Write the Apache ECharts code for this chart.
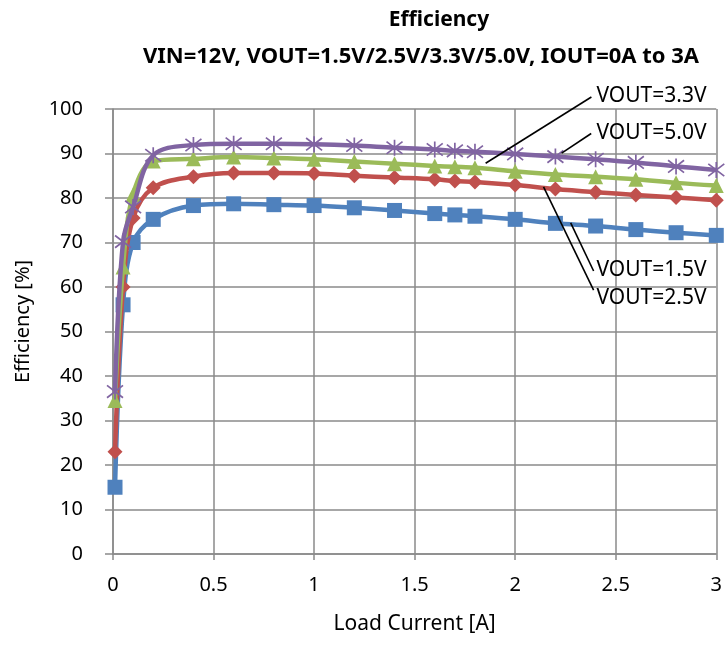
<!DOCTYPE html>
<html>
<head>
<meta charset="utf-8">
<script src="https://cdn.jsdelivr.net/npm/echarts@6/dist/echarts.min.js"></script>
<style>
html,body{margin:0;padding:0;background:#fff;}
#chart{width:725px;height:645px;}
</style>
</head>
<body>
<div id="chart"></div>
<script>
// ---- data ----
const titleText = 'Efficiency';
const subtitleText = 'VIN=12V, VOUT=1.5V/2.5V/3.3V/5.0V, IOUT=0A to 3A';
const xName = 'Load Current [A]';
const yName = 'Efficiency [%]';
const xTickLabels = ['0', '0.5', '1', '1.5', '2', '2.5', '3'];
const yTickLabels = ['0', '10', '20', '30', '40', '50', '60', '70', '80', '90', '100'];
const loadCurrent = [0.01, 0.05, 0.1, 0.2, 0.4, 0.6, 0.8, 1.0, 1.2, 1.4, 1.6, 1.7, 1.8, 2.0, 2.2, 2.4, 2.6, 2.8, 3.0];
const eff15 = [15, 56, 70, 75.2, 78.3, 78.7, 78.5, 78.3, 77.8, 77.2, 76.5, 76.2, 75.9, 75.2, 74.3, 73.7, 72.9, 72.2, 71.6];
const eff25 = [23, 60, 75.5, 82.3, 84.8, 85.6, 85.6, 85.5, 85.0, 84.6, 84.2, 83.8, 83.6, 82.9, 82.0, 81.3, 80.7, 80.1, 79.5];
const eff33 = [34.5, 64.5, 80.8, 88.3, 88.8, 89.2, 89.0, 88.7, 88.2, 87.7, 87.2, 87.0, 86.8, 86.0, 85.3, 84.8, 84.2, 83.4, 82.8];
const eff50 = [36.5, 70.2, 78, 89.6, 91.9, 92.2, 92.2, 92.1, 91.8, 91.3, 90.9, 90.6, 90.4, 89.9, 89.3, 88.7, 88.0, 87.1, 86.3];
const seriesNames = ['VOUT=1.5V', 'VOUT=2.5V', 'VOUT=3.3V', 'VOUT=5.0V'];
// annotation callouts (data coordinates): label anchor, line start, line end
const calloutLabels = ['VOUT=3.3V', 'VOUT=5.0V', 'VOUT=1.5V', 'VOUT=2.5V'];
const calloutLabelAt = [[2.404, 102.95], [2.404, 94.55], [2.404, 63.83], [2.404, 57.42]];
const calloutFrom = [[2.379, 102.7], [2.378, 94.5], [2.390, 63.6], [2.390, 59.3]];
const calloutTo = [[1.853, 87.8], [2.231, 90.1], [2.276, 74.4], [2.141, 82.5]];

// ---- chart ----
const FONT = '"Noto Sans", "Open Sans", sans-serif';
const colors = ['#4F81BD', '#C0504D', '#9BBB59', '#8064A2'];
const symbols = ['rect', 'diamond', 'triangle', 'path://M0 0L10 10M10 0L0 10M5 -1.5L5 11.5'];
const symbolSizes = [15, 15, 15, 16];
const allData = [eff15, eff25, eff33, eff50];
const gridColor = '#8a8a8a';

const chart = echarts.init(document.getElementById('chart'), null, {renderer: 'canvas'});

const series = allData.map((vals, i) => ({
  name: seriesNames[i],
  type: 'line',
  data: loadCurrent.map((x, j) => [x, vals[j]]),
  smooth: 0.35,
  symbol: symbols[i],
  symbolSize: symbolSizes[i],
  showSymbol: true,
  lineStyle: {color: colors[i], width: 4.5},
  itemStyle: i === 3
    ? {color: 'rgba(0,0,0,0)', borderColor: colors[i], borderWidth: 1.7}
    : {color: colors[i], borderWidth: 0},
  z: 2 + i,
  animation: false
}));

chart.setOption({
  animation: false,
  backgroundColor: '#fff',
  grid: {left: 113, right: 5, top: 109, bottom: 91, containLabel: false},
  xAxis: {
    type: 'value', min: 0, max: 3, interval: 0.5,
    name: xName, nameLocation: 'middle', nameGap: 60,
    nameTextStyle: {fontFamily: FONT, fontSize: 21, color: '#000'},
    axisLine: {show: true, lineStyle: {color: gridColor, width: 1.5}},
    axisTick: {show: true, length: 6, lineStyle: {color: gridColor, width: 1.5}},
    axisLabel: {margin: 21, fontFamily: FONT, fontSize: 20, color: '#000',
      formatter: v => xTickLabels[Math.round(v / 0.5)]},
    splitLine: {show: true, lineStyle: {color: gridColor, width: 1.5}}
  },
  yAxis: {
    type: 'value', min: 0, max: 100, interval: 10,
    name: yName, nameLocation: 'middle', nameGap: 80, nameRotate: 90,
    nameTextStyle: {fontFamily: FONT, fontSize: 20, color: '#000', padding: [0, 0, 0, 20]},
    axisLine: {show: true, lineStyle: {color: gridColor, width: 1.5}},
    axisTick: {show: true, length: 8, lineStyle: {color: gridColor, width: 1.5}},
    axisLabel: {margin: 30, fontFamily: FONT, fontSize: 20, color: '#000',
      formatter: v => yTickLabels[Math.round(v / 10)]},
    splitLine: {show: true, lineStyle: {color: gridColor, width: 1.5}}
  },
  series: series
});

const g = [];
g.push({type: 'text', x: 439, y: 20, silent: true,
  style: {text: titleText, fontFamily: FONT, fontSize: 21, fontWeight: 'bold', fill: '#000', align: 'center', verticalAlign: 'middle', textAlign: 'center', textVerticalAlign: 'middle'}});
g.push({type: 'text', x: 421, y: 57, silent: true,
  style: {text: subtitleText, fontFamily: FONT, fontSize: 22, fontWeight: 'bold', fill: '#000', align: 'center', verticalAlign: 'middle', textAlign: 'center', textVerticalAlign: 'middle'}});
calloutLabels.forEach((t, i) => {
  const a = chart.convertToPixel({gridIndex: 0}, calloutFrom[i]);
  const b = chart.convertToPixel({gridIndex: 0}, calloutTo[i]);
  const p = chart.convertToPixel({gridIndex: 0}, calloutLabelAt[i]);
  g.push({type: 'line', silent: true, z: 100,
    shape: {x1: a[0], y1: a[1], x2: b[0], y2: b[1]},
    style: {stroke: '#000', lineWidth: 1.6}});
  g.push({type: 'text', x: p[0], y: p[1], silent: true, z: 100,
    style: {text: t, fontFamily: FONT, fontSize: 21, fill: '#000', align: 'left', verticalAlign: 'middle', textAlign: 'left', textVerticalAlign: 'middle'}});
});
chart.setOption({graphic: g});
</script>
</body>
</html>
